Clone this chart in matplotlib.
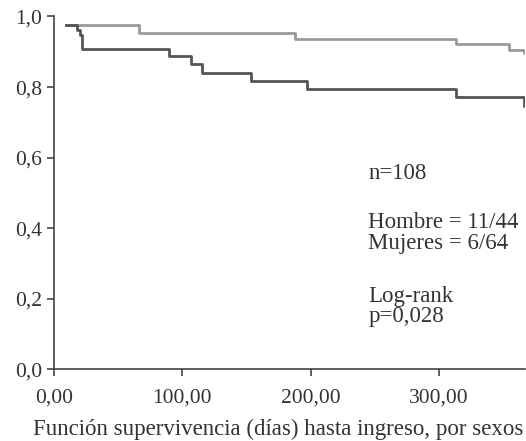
import matplotlib.pyplot as plt

# Kaplan-Meier curves (days, survival)
mujeres_t = [9.4, 65.9, 187.5, 313, 354.5, 366, 367]
mujeres_s = [0.976, 0.953, 0.935, 0.923, 0.906, 0.897, 0.897]

hombres_t = [9.4, 18, 20.4, 22, 89.4, 107, 115.3, 153.7, 197, 313, 366, 367]
hombres_s = [0.976, 0.962, 0.948, 0.908, 0.887, 0.864, 0.839, 0.818, 0.795, 0.773, 0.747, 0.747]

xticks = [0, 100, 200, 300]
xlabels = ["0,00", "100,00", "200,00", "300,00"]
yticks = [0.0, 0.2, 0.4, 0.6, 0.8, 1.0]
ylabels = ["0,0", "0,2", "0,4", "0,6", "0,8", "1,0"]

plt.rcParams['font.family'] = ['Liberation Serif', 'DejaVu Serif']

fig = plt.figure(figsize=(5.26, 4.41), dpi=100)
ax = fig.add_axes([0.1027, 0.1626, 0.8953, 0.8])

ax.plot(mujeres_t, mujeres_s, drawstyle='steps-post', color='#9a9a9a', lw=2.0)
ax.plot(hombres_t, hombres_s, drawstyle='steps-post', color='#555555', lw=2.0)

ax.set_xlim(0, 367)
ax.set_ylim(0, 1.0)
ax.set_xticks(xticks)
ax.set_xticklabels(xlabels)
ax.set_yticks(yticks)
ax.set_yticklabels(ylabels)
ax.tick_params(labelsize=15.5, length=5, width=1.2, color='#444444', labelcolor='#333333')
ax.tick_params(axis='x', pad=9)

for side in ['top', 'right']:
    ax.spines[side].set_visible(False)
for side in ['left', 'bottom']:
    ax.spines[side].set_color('#444444')
    ax.spines[side].set_linewidth(1.2)

# axis title sits a bit left of the axes centre in the original
fig.text(278 / 526, 6 / 441, "Función supervivencia (días) hasta ingreso, por sexos",
         fontsize=16.5, color='#333333', ha='center', va='baseline')

txt = dict(fontsize=16.5, color='#333333', va='center')
ax.text(245, 0.554, "n=108", **txt)
ax.text(245, 0.416, "Hombre = 11/44", **txt)
ax.text(245, 0.356, "Mujeres = 6/64", **txt)
ax.text(245, 0.206, "Log-rank", **txt)
ax.text(245, 0.151, "p=0,028", **txt)

fig.savefig("out.png", dpi=100)
